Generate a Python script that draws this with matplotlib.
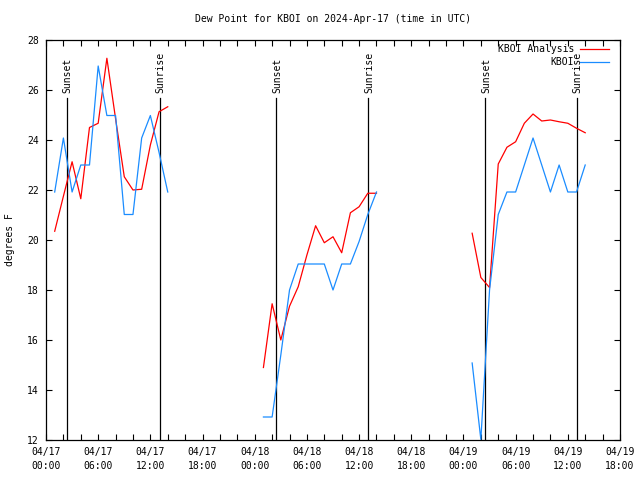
import numpy as np
import matplotlib; matplotlib.use("Agg")
import matplotlib.pyplot as plt
from matplotlib.ticker import MultipleLocator

plt.rcParams.update({"font.family": "DejaVu Sans Mono", "font.size": 7})

RED = "#ff0000"; BLUE = "#1a8cff"; INK = "#000000"

# hours since 2024-04-17 00:00 UTC
h1 = [1, 2, 3, 4, 5, 6, 7, 8, 9, 10, 11, 12, 13, 14]
h2 = [25, 26, 27, 28, 29, 30, 31, 32, 33, 34, 35, 36, 37, 38]
h3 = [49, 50, 51, 52, 53, 54, 55, 56, 57, 58, 59, 60, 61, 62]

ana1 = [20.35, 21.75, 23.13, 21.65, 24.5, 24.67, 27.27, 24.85, 22.53, 22.0, 22.03, 23.8, 25.13, 25.33]
ana2 = [14.9, 17.45, 16.0, 17.35, 18.13, 19.4, 20.57, 19.89, 20.13, 19.49, 21.09, 21.33, 21.87, 21.87]
ana3 = [20.27, 18.5, 18.1, 23.04, 23.71, 23.93, 24.67, 25.04, 24.76, 24.8, 24.73, 24.67, 24.47, 24.29]

obs1 = [21.92, 24.08, 21.92, 23.0, 23.0, 26.96, 24.98, 24.98, 21.02, 21.02, 24.08, 24.98, 23.5, 21.92]
obs2 = [12.92, 12.92, 15.4, 18.0, 19.04, 19.04, 19.04, 19.04, 18.0, 19.04, 19.04, 19.94, 21.02, 21.92]
obs3 = [15.08, 12.02, 18.0, 21.02, 21.92, 21.92, 23.0, 24.08, 23.0, 21.92, 23.0, 21.92, 21.92, 23.0]

sunset = [2.4, 26.45, 50.5]
sunrise = [13.1, 37.05, 61.05]

xticks = [0, 6, 12, 18, 24, 30, 36, 42, 48, 54, 60, 66]
xlabels = ["04/17\n00:00", "04/17\n06:00", "04/17\n12:00", "04/17\n18:00",
           "04/18\n00:00", "04/18\n06:00", "04/18\n12:00", "04/18\n18:00",
           "04/19\n00:00", "04/19\n06:00", "04/19\n12:00", "04/19\n18:00"]

fig = plt.figure(figsize=(6.4, 4.8), dpi=100)
ax = fig.add_axes([46/640, 40/480, 574/640, 400/480])

for hs, a, o in [(h1, ana1, obs1), (h2, ana2, obs2), (h3, ana3, obs3)]:
    ax.plot(hs, a, color=RED, lw=0.9, zorder=3)
    ax.plot(hs, o, color=BLUE, lw=0.9, zorder=3)

for t in sunset:
    ax.plot([t, t], [12, 25.67], color=INK, lw=0.9, zorder=2)
    ax.text(t + 0.1, 25.87, "Sunset", rotation=90, ha="center", va="bottom", fontsize=7)
for t in sunrise:
    ax.plot([t, t], [12, 25.67], color=INK, lw=0.9, zorder=2)
    ax.text(t + 0.1, 25.87, "Sunrise", rotation=90, ha="center", va="bottom", fontsize=7)

# legend, gnuplot style
ax.text(0.92, 0.977, "KBOI Analysis", transform=ax.transAxes, ha="right", va="center", fontsize=7)
ax.plot([0.931, 0.981], [0.977, 0.977], transform=ax.transAxes, color=RED, lw=0.9, clip_on=False)
ax.text(0.92, 0.944, "KBOI", transform=ax.transAxes, ha="right", va="center", fontsize=7)
ax.plot([0.931, 0.981], [0.944, 0.944], transform=ax.transAxes, color=BLUE, lw=0.9, clip_on=False)

ax.set_xlim(0, 66); ax.set_ylim(12, 28)
ax.set_xticks(xticks); ax.set_xticklabels(xlabels, linespacing=1.45)
ax.xaxis.set_minor_locator(MultipleLocator(2))
ax.set_yticks(np.arange(12, 29, 2))
ax.tick_params(which="both", direction="in", length=4, width=0.8, top=True, right=True, labelsize=7, pad=5)
for sp in ax.spines.values(): sp.set_linewidth(0.9)
ax.set_ylabel("degrees F", fontsize=7, labelpad=9)
ax.set_title("Dew Point for KBOI on 2024-Apr-17 (time in UTC)", fontsize=7, pad=13)

fig.savefig("out.png", dpi=100, facecolor="white")
